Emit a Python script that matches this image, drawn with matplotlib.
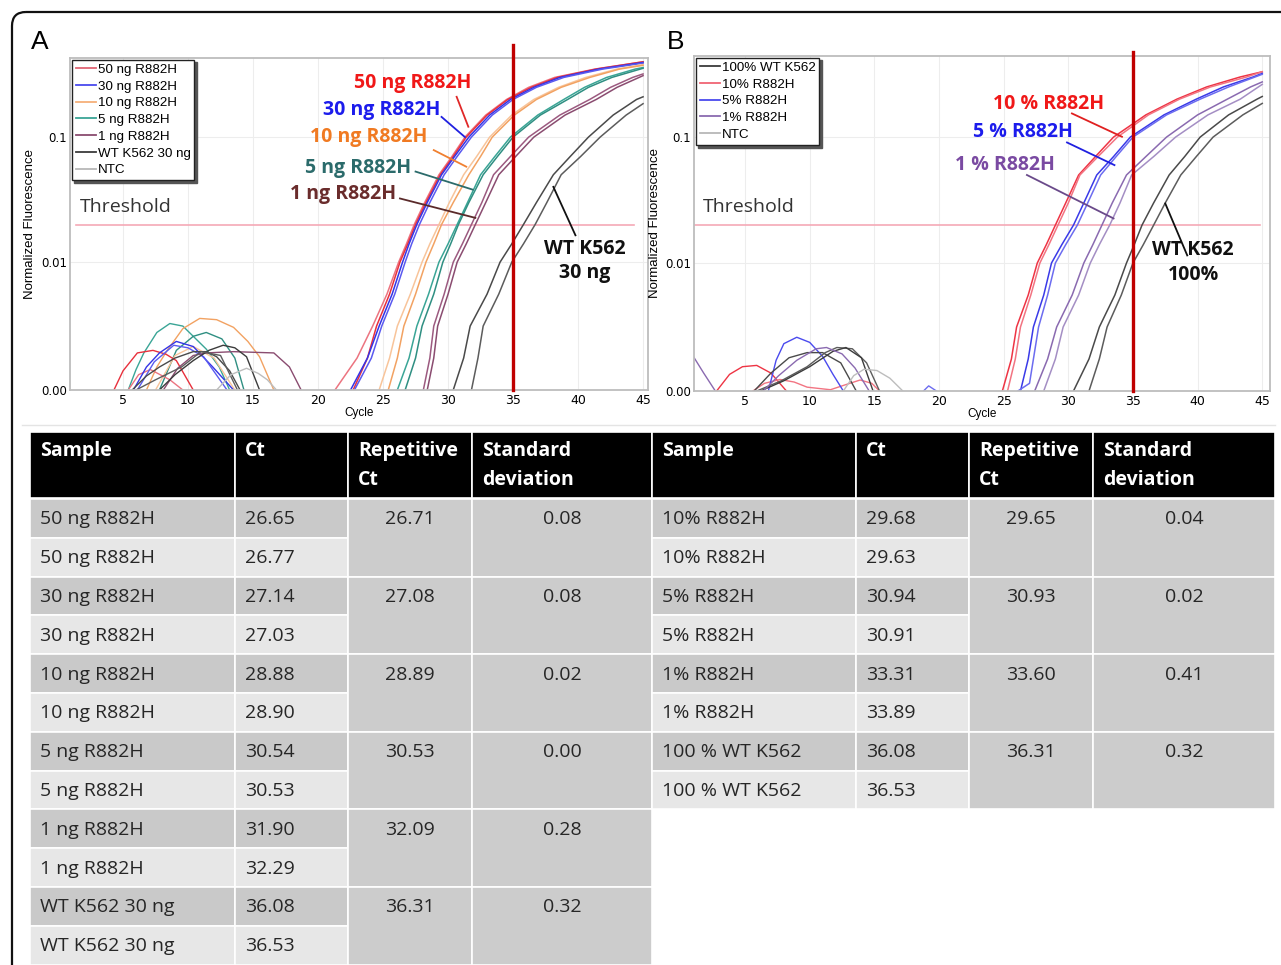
import matplotlib
matplotlib.use("Agg")
import matplotlib.pyplot as plt
from matplotlib.patches import Rectangle, FancyBboxPatch
from matplotlib.lines import Line2D
from matplotlib.ticker import NullLocator

# ---------------- data ----------------
# panel A amplification curves (cycle, normalized fluorescence)
A_CURVE_SAMPLE = ["50 ng R882H", "50 ng R882H", "30 ng R882H", "30 ng R882H",
                  "10 ng R882H", "10 ng R882H", "5 ng R882H", "5 ng R882H",
                  "1 ng R882H", "1 ng R882H", "WT K562 30 ng", "WT K562 30 ng"]
A_CURVE_CYCLES = [
    [21.3, 23.0, 24.2, 25.3, 26.2, 26.8, 27.4, 28.2, 29.3, 30.3, 31.3, 32.9, 34.5, 36.2, 38.2, 41.3, 45],
    [22.7, 23.8, 24.5, 25.5, 26.3, 26.9, 27.5, 28.3, 29.4, 30.4, 31.4, 33.0, 34.6, 36.4, 38.4, 41.4, 45],
    [22.5, 23.8, 24.7, 25.7, 26.5, 27.0, 27.6, 28.4, 29.5, 30.5, 31.6, 33.2, 34.8, 36.6, 38.6, 41.6, 45],
    [22.8, 24.1, 24.9, 25.9, 26.7, 27.2, 27.8, 28.6, 29.7, 30.7, 31.8, 33.4, 35.0, 36.8, 38.9, 41.9, 45],
    [24.7, 25.5, 26.1, 27.1, 28.0, 28.6, 29.3, 30.1, 31.2, 32.2, 33.2, 34.9, 36.6, 38.5, 40.6, 43.0, 45],
    [25.4, 26.1, 26.6, 27.5, 28.3, 28.9, 29.5, 30.4, 31.6, 32.5, 33.4, 35.1, 36.8, 38.7, 40.9, 43.2, 45],
    [26.1, 27.0, 27.6, 28.5, 29.3, 30.0, 30.7, 31.5, 32.5, 33.6, 34.8, 36.9, 38.9, 40.5, 42.2, 44.4, 45],
    [26.7, 27.5, 28.0, 28.9, 29.6, 30.2, 30.8, 31.6, 32.7, 33.8, 35.0, 37.1, 39.2, 40.8, 42.6, 45],
    [28.1, 28.6, 28.9, 29.7, 30.4, 31.1, 31.8, 32.6, 33.5, 34.8, 36.2, 38.6, 40.9, 42.5, 44.2, 45],
    [28.4, 28.9, 29.2, 30.0, 30.7, 31.4, 32.1, 32.9, 33.9, 35.2, 36.6, 39.0, 41.4, 43.0, 45],
    [30.4, 31.2, 31.7, 33.0, 34.0, 34.9, 35.8, 36.8, 38.1, 39.4, 40.8, 42.7, 44.5, 45],
    [31.8, 32.3, 32.7, 33.9, 34.9, 35.8, 36.7, 37.6, 38.7, 40.2, 41.7, 43.7, 45],
]
A_CURVE_FLUOR = [
    [0, .0025, .005, .0075, .01, .014, .02, .03, .05, .07, .1, .15, .2, .25, .3, .35, .40],
    [0, .0025, .005, .0075, .01, .014, .02, .03, .05, .07, .1, .15, .2, .25, .3, .35, .40],
    [0, .0025, .005, .0075, .01, .014, .02, .03, .05, .07, .1, .15, .2, .25, .3, .35, .395],
    [0, .0025, .005, .0075, .01, .014, .02, .03, .05, .07, .1, .15, .2, .25, .3, .35, .39],
    [0, .0025, .005, .0075, .01, .014, .02, .03, .05, .07, .1, .15, .2, .25, .3, .35, .38],
    [0, .0025, .005, .0075, .01, .014, .02, .03, .05, .07, .1, .15, .2, .25, .3, .35, .375],
    [0, .0025, .005, .0075, .01, .014, .02, .03, .05, .07, .1, .15, .2, .25, .3, .35, .36],
    [0, .0025, .005, .0075, .01, .014, .02, .03, .05, .07, .1, .15, .2, .25, .3, .355],
    [0, .0025, .005, .0075, .01, .014, .02, .03, .05, .07, .1, .15, .2, .25, .3, .32],
    [0, .0025, .005, .0075, .01, .014, .02, .03, .05, .07, .1, .15, .2, .25, .31],
    [0, .0025, .005, .0075, .01, .014, .02, .03, .05, .07, .1, .15, .2, .21],
    [0, .0025, .005, .0075, .01, .014, .02, .03, .05, .07, .1, .15, .185],
]
A_CURVE_COLORS = ["#ec7480", "#e8303c", "#3434e6", "#5a5af0", "#f8c49a", "#f2a262",
                  "#3aa596", "#2f8f82", "#9c5a80", "#8a4c70", "#4a4a4a", "#5c5c5c"]

# panel A early-cycle baseline noise
A_NOISE_CYCLES = [
    [5.4, 6.0, 6.6, 7.6, 8.6, 9.6, 10.4, 11.4, 12.4, 13.2],
    [7.8, 9.1, 10.4, 11.4, 12.6, 13.6, 14.3],
    [6.8, 7.6, 8.4, 9.6, 10.9, 12.2, 13.5, 14.6, 15.5, 16.6],
    [7.5, 9.0, 10.4, 12.0, 13.6],
    [4.3, 5.0, 6.1, 7.3, 8.3, 9.1, 10.4],
    [5.4, 6.2, 7.1, 8.6, 9.6],
    [5.8, 6.8, 7.8, 9.1, 10.4, 11.9, 13.5],
    [6.1, 7.4, 8.9, 10.0, 11.2, 13.0],
    [8.1, 9.2, 10.4, 11.4, 13.5, 16.6, 17.8, 18.7],
    [7.8, 9.0, 10.4, 11.6, 12.7, 13.6, 14.5, 15.5],
    [5.7, 6.8, 7.8, 9.0, 10.4, 11.4, 12.2, 13.2, 14.0],
    [6.0, 7.5, 9.5, 11.0, 12.5, 13.8],
    [12.2, 13.3, 14.5, 15.4, 16.1, 16.8],
]
A_NOISE_FLUOR = [
    [0, 0.0016, 0.0029, 0.0045, 0.0052, 0.005, 0.0042, 0.0032, 0.0018, 0],
    [0, 0.0031, 0.0042, 0.0045, 0.004, 0.0025, 0],
    [0, 0.0018, 0.0031, 0.0048, 0.0056, 0.0055, 0.0049, 0.0038, 0.0026, 0],
    [0, 0.0027, 0.0034, 0.0025, 0],
    [0, 0.0015, 0.0029, 0.0031, 0.0028, 0.0023, 0],
    [0, 0.0012, 0.0016, 0.0008, 0],
    [0, 0.0018, 0.0029, 0.0038, 0.0034, 0.0018, 0],
    [0, 0.0022, 0.0035, 0.0033, 0.0026, 0],
    [0, 0.0017, 0.0027, 0.0029, 0.003, 0.0029, 0.0018, 0],
    [0, 0.0012, 0.0023, 0.0031, 0.0035, 0.0033, 0.0026, 0],
    [0, 0.0011, 0.0018, 0.0025, 0.003, 0.003, 0.0026, 0.0015, 0],
    [0, 0.0008, 0.0018, 0.003, 0.0027, 0],
    [0, 0.0012, 0.0017, 0.0013, 0.0008, 0],
]
A_NOISE_COLORS = ["#3aa596", "#2f8f82", "#f2a262", "#f8c49a", "#e8303c", "#ec7480",
                  "#3434e6", "#5a5af0", "#8a4c70", "#3c3c3c", "#4a4a4a", "#5c5c5c", "#bdbdbd"]

A_LEGEND_LABELS = ["50 ng R882H", "30 ng R882H", "10 ng R882H", "5 ng R882H",
                   "1 ng R882H", "WT K562 30 ng", "NTC"]
A_LEGEND_COLORS = ["#e06474", "#4a4aee", "#f6b07a", "#3aa596", "#8a4c70", "#3c3c3c", "#b8b8b8"]

# panel B amplification curves
B_CURVE_SAMPLE = ["10% R882H", "10% R882H", "5% R882H", "5% R882H",
                  "1% R882H", "1% R882H", "100% WT K562", "100% WT K562"]
B_CURVE_CYCLES = [
    [24.9, 25.6, 26.0, 26.9, 27.6, 28.3, 29.0, 29.8, 30.8, 32.1, 33.5, 36.0, 38.4, 40.7, 43.3, 45],
    [25.3, 25.9, 26.3, 27.1, 27.8, 28.5, 29.2, 30.0, 30.9, 32.3, 33.8, 36.2, 38.6, 41.0, 43.8, 45],
    [26.3, 26.9, 27.3, 28.1, 28.7, 29.5, 30.4, 31.2, 32.2, 33.5, 34.8, 37.4, 39.9, 42.0, 44.3, 45],
    [26.1, 27.0, 27.7, 28.4, 29.0, 29.8, 30.7, 31.5, 32.5, 33.7, 35.0, 37.6, 40.2, 42.4, 45],
    [27.4, 28.4, 29.1, 30.3, 31.2, 31.9, 32.6, 33.4, 34.5, 36.0, 37.6, 40.0, 42.3, 44.1, 45],
    [28.1, 29.0, 29.6, 30.8, 31.7, 32.4, 33.2, 34.0, 34.9, 36.6, 38.3, 40.8, 43.3, 45],
    [30.4, 31.6, 32.4, 33.6, 34.5, 35.1, 35.7, 36.6, 37.8, 39.0, 40.2, 42.4, 44.6, 45],
    [31.6, 32.4, 33.0, 34.1, 35.0, 35.8, 36.6, 37.5, 38.7, 39.9, 41.2, 43.5, 45],
]
B_CURVE_FLUOR = [
    [0, .0025, .005, .0075, .01, .014, .02, .03, .05, .07, .1, .15, .2, .25, .3, .33],
    [0, .0025, .005, .0075, .01, .014, .02, .03, .05, .07, .1, .15, .2, .25, .3, .33],
    [0, .0025, .005, .0075, .01, .014, .02, .03, .05, .07, .1, .15, .2, .25, .3, .32],
    [0, .0006, .005, .0075, .01, .014, .02, .03, .05, .07, .1, .15, .2, .25, .315],
    [0, .0025, .005, .0075, .01, .014, .02, .03, .05, .07, .1, .15, .2, .25, .274],
    [0, .0025, .005, .0075, .01, .014, .02, .03, .05, .07, .1, .15, .2, .262],
    [0, .0025, .005, .0075, .01, .014, .02, .03, .05, .07, .1, .15, .2, .21],
    [0, .0025, .005, .0075, .01, .014, .02, .03, .05, .07, .1, .15, .185],
]
B_CURVE_COLORS = ["#ee3444", "#f27482", "#3a3ae8", "#6c6cf0",
                  "#8a6ab0", "#a48ec4", "#4a4a4a", "#5c5c5c"]

B_NOISE_CYCLES = [
    [1.0, 1.8, 2.7],
    [2.8, 3.8, 4.8, 5.9, 7.0, 8.2],
    [5.6, 6.5, 7.7, 8.8, 9.8, 11.6, 12.8, 13.9, 14.8, 15.4],
    [6.8, 7.4, 8.0, 9.0, 10.0, 11.0, 11.8, 12.6],
    [5.7, 7.0, 8.4, 9.8, 11.0, 12.4, 13.6],
    [5.9, 7.8, 9.8, 11.2, 12.1, 13.3, 14.4, 15.4],
    [6.2, 8.0, 10.0, 11.8, 12.8, 14.0, 14.9],
    [6.4, 7.6, 9.0, 10.5, 11.3, 12.5, 13.5, 14.6],
    [12.6, 13.4, 14.2, 15.2, 16.2, 17.2],
    [18.8, 19.2, 19.8],
]
B_NOISE_FLUOR = [
    [0.0027, 0.0014, 0],
    [0, 0.0013, 0.0019, 0.002, 0.0014, 0],
    [0, 0.0006, 0.0009, 0.0007, 0.0003, 0.0001, 0.0005, 0.00086, 0.0006, 0],
    [0, 0.0024, 0.0037, 0.0042, 0.0038, 0.0027, 0.0013, 0],
    [0, 0.0014, 0.0026, 0.003, 0.003, 0.0022, 0],
    [0, 0.0008, 0.0019, 0.003, 0.0034, 0.0033, 0.0022, 0],
    [0, 0.0008, 0.0019, 0.0031, 0.0034, 0.0026, 0],
    [0, 0.0012, 0.0024, 0.0033, 0.0034, 0.0029, 0.0018, 0],
    [0, 0.0012, 0.0017, 0.0016, 0.001, 0],
    [0, 0.0004, 0],
]
B_NOISE_COLORS = ["#8a6ab0", "#ee3444", "#f27482", "#4a4aee", "#4a4a4a",
                  "#5c5c5c", "#3c3c3c", "#8a6ab0", "#bdbdbd", "#6c6cf0"]

B_LEGEND_LABELS = ["100% WT K562", "10% R882H", "5% R882H", "1% R882H", "NTC"]
B_LEGEND_COLORS = ["#3c3c3c", "#f06474", "#4a4aee", "#8a6ab0", "#b8b8b8"]

THRESHOLD = 0.02
CT_MARK = 35

# tables
A_SAMPLES = ["50 ng R882H", "50 ng R882H", "30 ng R882H", "30 ng R882H",
             "10 ng R882H", "10 ng R882H", "5 ng R882H", "5 ng R882H",
             "1 ng R882H", "1 ng R882H", "WT K562 30 ng", "WT K562 30 ng"]
A_CT = [26.65, 26.77, 27.14, 27.03, 28.88, 28.90, 30.54, 30.53, 31.90, 32.29, 36.08, 36.53]
A_REP_CT = [26.71, 27.08, 28.89, 30.53, 32.09, 36.31]
A_SD = [0.08, 0.08, 0.02, 0.00, 0.28, 0.32]

B_SAMPLES = ["10% R882H", "10% R882H", "5% R882H", "5% R882H",
             "1% R882H", "1% R882H", "100 % WT K562", "100 % WT K562"]
B_CT = [29.68, 29.63, 30.94, 30.91, 33.31, 33.89, 36.08, 36.53]
B_REP_CT = [29.65, 30.93, 33.60, 36.31]
B_SD = [0.04, 0.02, 0.41, 0.32]

HEADERS = ["Sample", "Ct", "Repetitive\nCt", "Standard\ndeviation"]

# ---------------- figure ----------------
W, H = 1281, 965
fig = plt.figure(figsize=(W / 100, H / 100), dpi=100)
bg = fig.add_axes([0, 0, 1, 1])
bg.set_xlim(0, W)
bg.set_ylim(H, 0)
bg.axis("off")

TXT = "Open Sans"
SMALL = "Liberation Sans"


def px_axes(l, t, r, b):
    return fig.add_axes([l / W, 1 - b / H, (r - l) / W, (b - t) / H])


def setup(ax, xlim, ytop, linscale):
    ax.set_yscale("symlog", linthresh=0.01, linscale=linscale)
    ax.set_xlim(*xlim)
    ax.set_ylim(0, ytop)
    ax.set_xticks(range(5, 46, 5))
    ax.set_yticks([0, 0.01, 0.1])
    ax.set_yticklabels(["0.00", "0.01", "0.1"])
    ax.yaxis.set_minor_locator(NullLocator())
    ax.tick_params(axis="x", length=0, labelsize=9, pad=3)
    ax.tick_params(axis="y", length=0, labelsize=8.5, pad=2)
    for lab in ax.get_xticklabels() + ax.get_yticklabels():
        lab.set_family("DejaVu Sans")
    for x in range(5, 46, 5):
        ax.axvline(x, color="#ededed", lw=0.8, zorder=0)
    for y in [0.01, 0.1]:
        ax.axhline(y, color="#ededed", lw=0.8, zorder=0)
    for s in ax.spines.values():
        s.set_color("#bdbdbd")
        s.set_linewidth(1.3)
    ax.set_xlabel("Cycle", fontsize=8.5, family=SMALL, labelpad=0)
    ax.set_ylabel("Normalized Fluorescence", fontsize=9.5, family=SMALL)
    ax.yaxis.set_label_coords(-0.058, 0.5)


def draw_curves(ax, cyc, flu, cols, lw=1.1):
    for c, f, col in zip(cyc, flu, cols):
        ax.plot(c, f, color=col, lw=lw, zorder=2)


def legend(ax, labels, cols):
    handles = [Line2D([], [], color=c, lw=1.3) for c in cols]
    lg = ax.legend(handles, labels, loc="upper left", bbox_to_anchor=(0.0, 1.0),
                   borderaxespad=0.12, handlelength=1.55,
                   handletextpad=0.1, labelspacing=0.33, borderpad=0.3,
                   fancybox=False, shadow={"color": "#555555", "alpha": 1.0}, framealpha=1,
                   prop={"family": SMALL, "size": 9.6})
    lg.get_frame().set_edgecolor("#222222")
    lg.get_frame().set_linewidth(1.0)
    lg.set_zorder(6)


def note(ax, x, y, s, col, leader=None, lcol=None):
    ax.text(x, y, s, color=col, fontsize=14, weight="bold", family=TXT,
            ha="center", va="center", zorder=7, linespacing=1.3)
    if leader is not None:
        (x1, y1), (x2, y2) = leader
        ax.plot([x1, x2], [y1, y2], color=lcol or col, lw=1.3, zorder=7)


# ---------- panel A ----------
axA = px_axes(70, 58, 648, 390)
setup(axA, (0.92, 45.38), 0.429, 0.92)
draw_curves(axA, A_NOISE_CYCLES, A_NOISE_FLUOR, A_NOISE_COLORS, lw=1.0)
draw_curves(axA, A_CURVE_CYCLES, A_CURVE_FLUOR, A_CURVE_COLORS)
axA.plot([1.4, 44.3], [THRESHOLD, THRESHOLD], color="#f5a9b6", lw=1.2, zorder=1)
axA.plot([CT_MARK, CT_MARK], [0, 0.546], color="#c00000", lw=2.4, zorder=5, clip_on=False)
legend(axA, A_LEGEND_LABELS, A_LEGEND_COLORS)
axA.text(1.7, 0.0275, "Threshold", fontsize=14, family=TXT, color="#333333",
         ha="left", va="center")
note(axA, 27.3, 0.27, "50 ng R882H", "#f01818", ((30.66, 0.21), (31.56, 0.121)), "#e02828")
note(axA, 24.9, 0.164, "30 ng R882H", "#1c1cec", ((29.5, 0.145), (31.3, 0.1)), "#2020e0")
note(axA, 23.9, 0.1, "10 ng R882H", "#f07a22", ((28.9, 0.0787), (31.4, 0.058)), "#f08030")
note(axA, 23.1, 0.0566, "5 ng R882H", "#2b6b6b", ((27.5, 0.053), (31.9, 0.038)), "#2b6b6b")
note(axA, 21.9, 0.035, "1 ng R882H", "#6a2c2c", ((26.3, 0.0323), (32.1, 0.0226)), "#5a2a2a")
note(axA, 40.5, 0.0102, "WT K562\n30 ng", "#111111", ((38.1, 0.040), (39.8, 0.0164)), "#111111")

# ---------- panel B ----------
axB = px_axes(694, 56, 1270, 391)
setup(axB, (1.05, 45.6), 0.44, 0.914)
draw_curves(axB, B_NOISE_CYCLES, B_NOISE_FLUOR, B_NOISE_COLORS, lw=1.0)
draw_curves(axB, B_CURVE_CYCLES, B_CURVE_FLUOR, B_CURVE_COLORS)
axB.plot([1.1, 44.8], [THRESHOLD, THRESHOLD], color="#f5a9b6", lw=1.2, zorder=1)
axB.plot([CT_MARK, CT_MARK], [0, 0.472], color="#c00000", lw=2.4, zorder=5, clip_on=False)
legend(axB, B_LEGEND_LABELS, B_LEGEND_COLORS)
axB.text(1.75, 0.0278, "Threshold", fontsize=14, family=TXT, color="#333333",
         ha="left", va="center")
note(axB, 28.44, 0.183, "10 % R882H", "#f01818", ((30.28, 0.154), (34.15, 0.1006)), "#e02020")
note(axB, 26.5, 0.11, "5 % R882H", "#1c1cec", ((29.9, 0.0906), (33.57, 0.0599)), "#2020e0")
note(axB, 25.1, 0.06, "1 % R882H", "#7a4aa2", ((26.8, 0.05), (33.5, 0.0226)), "#6a4a8a")
note(axB, 39.66, 0.0101, "WT K562\n100%", "#111111", ((37.5, 0.0297), (39.2, 0.0115)), "#111111")

# ---------- frame, letters ----------
bg.add_patch(FancyBboxPatch((12, 12), 1400, 1100, boxstyle="round,pad=0,rounding_size=14",
                            fill=False, ec="#111111", lw=1.6))
bg.plot([22, 1275], [425, 425], color="#e4e4e4", lw=1.0)
bg.text(40, 42, "A", fontsize=19, family=SMALL, ha="center", va="center")
bg.text(676, 42, "B", fontsize=19, family=SMALL, ha="center", va="center")

# ---------- tables ----------
HDR_TOP, HDR_H, ROW_TOP, ROW_H = 432, 66, 499, 38.8


def draw_table(edges, samples, cts, reps, sds):
    for j in range(4):
        bg.add_patch(Rectangle((edges[j], HDR_TOP), edges[j + 1] - edges[j], HDR_H,
                               fc="black", ec="white", lw=1.2))
        for k, line in enumerate(HEADERS[j].split("\n")):
            bg.text(edges[j] + 10, 451 + k * 29, line, color="white", fontsize=14,
                    weight="bold", family=TXT, ha="left", va="center")
    for i, (s, ct) in enumerate(zip(samples, cts)):
        y = ROW_TOP + i * ROW_H
        fc = "#c9c9c9" if i % 2 == 0 else "#e7e7e7"
        for j, txt in enumerate([s, f"{ct:.2f}"]):
            bg.add_patch(Rectangle((edges[j], y), edges[j + 1] - edges[j], ROW_H,
                                   fc=fc, ec="white", lw=1.2))
            bg.text(edges[j] + 10, y + ROW_H / 2 + 1, txt, color="#262626", fontsize=14,
                    family=TXT, ha="left", va="center")
    for i, (r, d) in enumerate(zip(reps, sds)):
        y = ROW_TOP + 2 * i * ROW_H
        for j, v in zip([2, 3], [r, d]):
            bg.add_patch(Rectangle((edges[j], y), edges[j + 1] - edges[j], 2 * ROW_H,
                                   fc="#cccccc", ec="white", lw=1.2))
            bg.text((edges[j] + edges[j + 1]) / 2, y + ROW_H / 2 + 1, f"{v:.2f}",
                    color="#262626", fontsize=14, family=TXT, ha="center", va="center")


draw_table([30, 235, 348, 472, 652], A_SAMPLES, A_CT, A_REP_CT, A_SD)
draw_table([652, 856, 969, 1093, 1275], B_SAMPLES, B_CT, B_REP_CT, B_SD)

fig.savefig("out.png", dpi=100)
